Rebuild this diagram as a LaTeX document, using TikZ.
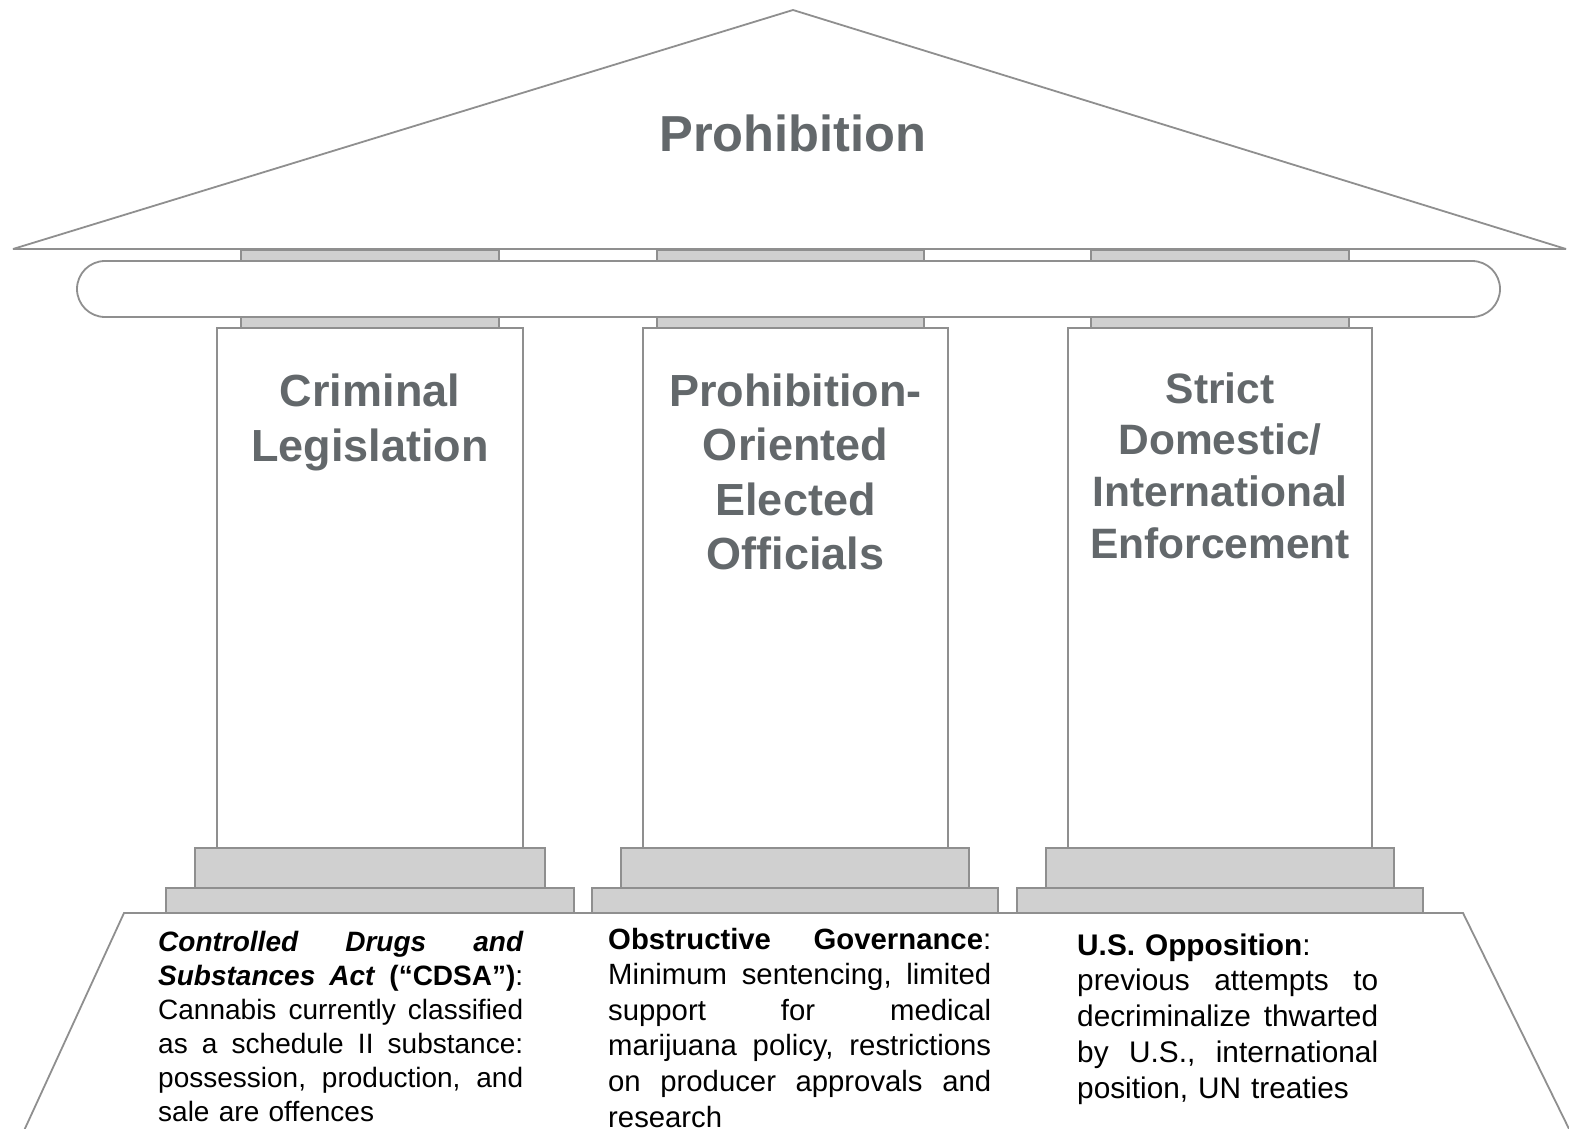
\documentclass[tikz,border=0pt]{standalone}
\usepackage{fontspec}
\setmainfont{Liberation Sans}
\definecolor{edge}{HTML}{8F8F8F}
\definecolor{stone}{HTML}{D0D0D0}
\definecolor{titlegrey}{HTML}{63686B}
\newcommand{\jline}[2]{\leavevmode\hbox to #1{#2}}
\begin{document}
\begin{tikzpicture}[x=1pt,y=-1pt,
  outline/.style={draw=edge, line width=1.8pt, line join=miter},
  stonebox/.style={draw=edge, fill=stone, line width=1.8pt},
  columnbox/.style={draw=edge, fill=white, line width=1.8pt},
  coltitle/.style={text=titlegrey, align=center, inner sep=0pt},
  bodytext/.style={text=black, align=left, inner sep=0pt}]
\useasboundingbox (0,0) rectangle (1569,1129);
% floor
\draw[outline, fill=white] (22,1135) -- (124,913) -- (1463,913) -- (1572,1135);
% steps
\draw[stonebox] (166,888) rectangle (574,913);
\draw[stonebox] (592,888) rectangle (998,913);
\draw[stonebox] (1017,888) rectangle (1423,913);
\draw[stonebox] (195,848) rectangle (545,888);
\draw[stonebox] (621,848) rectangle (969,888);
\draw[stonebox] (1046,848) rectangle (1394,888);
% columns
\draw[columnbox] (217,328) rectangle (523,848);
\draw[columnbox] (643,328) rectangle (948,848);
\draw[columnbox] (1068,328) rectangle (1372,848);
% capitals
\draw[stonebox] (241,317) rectangle (499,328);
\draw[stonebox] (657,317) rectangle (924,328);
\draw[stonebox] (1091,317) rectangle (1349,328);
\draw[stonebox] (241,250) rectangle (499,261);
\draw[stonebox] (657,250) rectangle (924,261);
\draw[stonebox] (1091,250) rectangle (1349,261);
% entablature
\draw[columnbox, rounded corners=28pt] (77,261) rectangle (1500,317);
% roof
\draw[outline, fill=white, line join=bevel] (793,10) -- (13,249) -- (1566,249) -- cycle;
\node[coltitle, anchor=base, font=\fontsize{50.6}{60}\selectfont\bfseries] (roof) at (793,152) {Prohibition};
% column titles
\node[coltitle, anchor=north, font=\fontsize{45}{55}\selectfont\bfseries] (t1) at (370,367.5) {\strut Criminal\\Legislation};
\node[coltitle, anchor=north, font=\fontsize{45}{54.5}\selectfont\bfseries] (t2) at (795.5,367.9) {\strut Prohibition-\\Oriented\\Elected\\Officials};
\node[coltitle, anchor=north, font=\fontsize{42.5}{51.7}\selectfont\bfseries] (t3) at (1220,366.8) {\strut Strict\\Domestic/\\International\\Enforcement};
% descriptions
\node[bodytext, anchor=north west, text width=365pt, font=\fontsize{28}{34}\selectfont] (d1) at (158,927.7) {%
\strut\jline{365pt}{\bfseries\itshape Controlled\hfill Drugs\hfill and}\\
\jline{365pt}{\textbf{\textit{Substances}\hfill\textit{Act}\hfill(“CDSA”)}:}\\
\jline{365pt}{Cannabis\hfill currently\hfill classified}\\
\jline{365pt}{as\hfill a\hfill schedule\hfill II\hfill substance:}\\
\jline{365pt}{possession,\hfill production,\hfill and}\\
sale are offences};
\node[bodytext, anchor=north west, text width=383pt, font=\fontsize{29.3}{35.6}\selectfont] (d2) at (608,924) {%
\strut\jline{383pt}{\textbf{Obstructive}\hfill\textbf{Governance}:}\\
\jline{383pt}{Minimum\hfill sentencing,\hfill limited}\\
\jline{383pt}{support\hfill for\hfill medical}\\
\jline{383pt}{marijuana\hfill policy,\hfill restrictions}\\
\jline{383pt}{on\hfill producer\hfill approvals\hfill and}\\
research};
\node[bodytext, anchor=north west, text width=301pt, font=\fontsize{29.8}{35.75}\selectfont] (d3) at (1077,929.8) {%
\strut\textbf{U.S. Opposition}:\\
\jline{301pt}{previous\hfill attempts\hfill to}\\
\jline{301pt}{decriminalize\hfill thwarted}\\
\jline{301pt}{by\hfill U.S.,\hfill international}\\
position, UN treaties};
\end{tikzpicture}
\end{document}
